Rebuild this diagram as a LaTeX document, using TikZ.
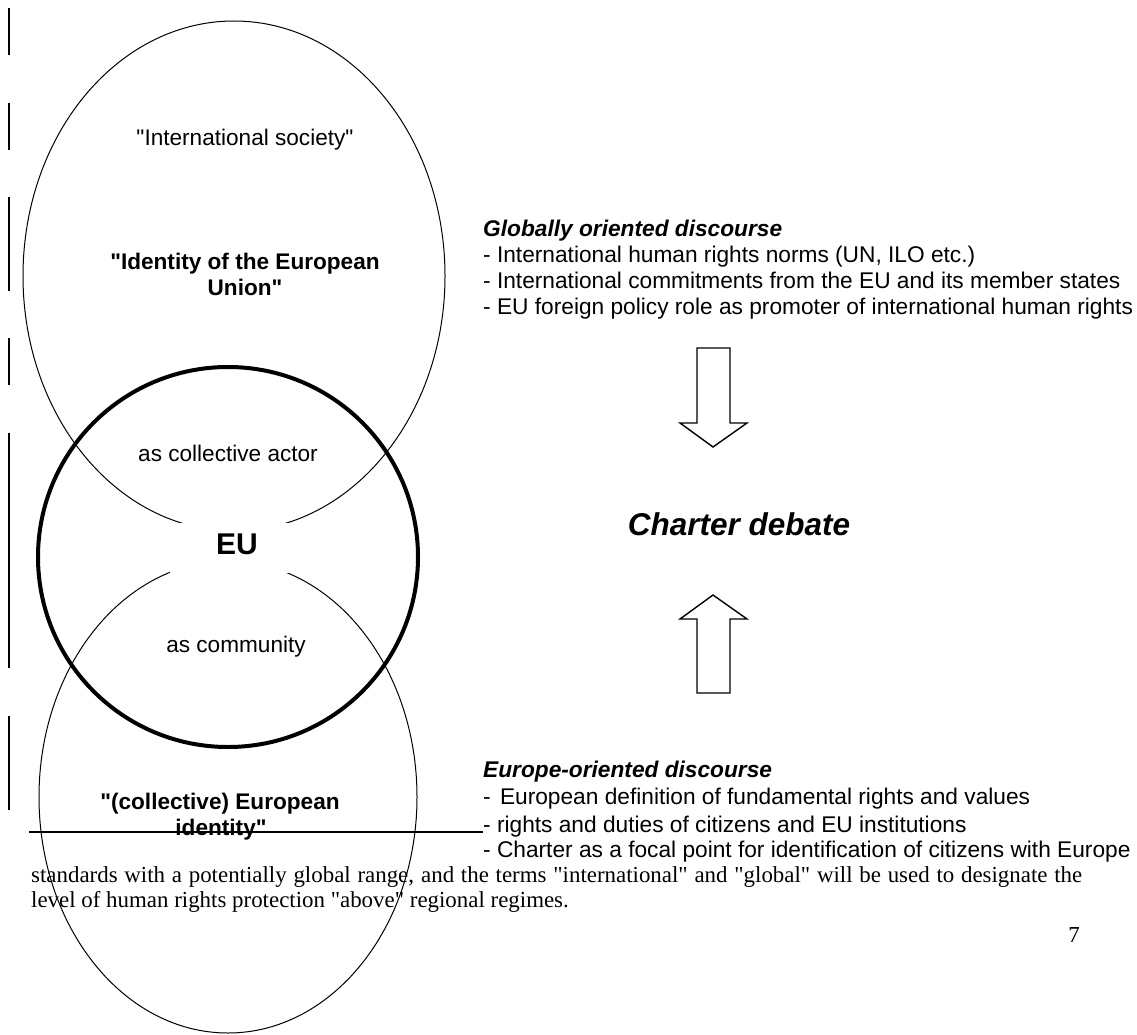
\documentclass[tikz,border=0pt]{standalone}
\usepackage{fontspec}
\newfontfamily\arialf{Liberation Sans}
\newfontfamily\timesf{Liberation Serif}
\begin{document}
\begin{tikzpicture}[x=1pt,y=-1pt,
  thinline/.style={line width=1pt},
  barline/.style={line width=2pt},
  thickline/.style={line width=4pt},
  blockarrow/.style={line width=1.4pt, line join=miter},
  lbl/.style={inner sep=0pt, anchor=base, font=\arialf\fontsize{22.6}{26}\selectfont},
  lblb/.style={inner sep=0pt, anchor=base, font=\arialf\fontsize{22.6}{26}\selectfont\bfseries},
  item/.style={inner sep=0pt, anchor=base west, font=\arialf\fontsize{22.7}{26}\selectfont},
  head/.style={inner sep=0pt, anchor=base west, font=\arialf\fontsize{22.7}{26}\selectfont\bfseries\itshape},
  bodytext/.style={inner sep=0pt, anchor=base west, font=\timesf\fontsize{22.9}{26}\selectfont}]
\useasboundingbox (0,0) rectangle (1137,1035);

% left margin bars
\draw[barline] (9,8) -- (9,55);
\draw[barline] (9,103) -- (9,150);
\draw[barline] (9,197) -- (9,291);
\draw[barline] (9,338) -- (9,385);
\draw[barline] (9,433) -- (9,668);
\draw[barline] (9,716) -- (9,810);

% ellipses
\draw[thinline] (234,276) ellipse [x radius=211, y radius=255];
\draw[thinline] (228,797) ellipse [x radius=189, y radius=236];
\fill[white] (170,523) rectangle (290,573);
\draw[thickline] (228,557) circle [radius=190];

% left texts
\node[lbl] (intsoc) at (245,146) {"International society"};
\node[lblb] (ideu1) at (245,269) {"Identity of the European};
\node[lblb] (ideu2) at (245,295) {Union"};
\node[lbl] (actor) at (228,461) {as collective actor};
\node[inner sep=0pt, anchor=base, font=\arialf\fontsize{30}{34}\selectfont\bfseries] (eu) at (237,554) {EU};
\node[lbl] (comm) at (236,652) {as community};
\node[lblb] (ceid1) at (220,809) {"(collective) European};
\node[lblb] (ceid2) at (221,835) {identity"};

% right top block
\node[head] (glob) at (483,236) {Globally oriented discourse};
\node[item] (g1) at (483,262) {- International human rights norms (UN, ILO etc.)};
\node[item] (g2) at (483,288) {- International commitments from the EU and its member states};
\node[item] (g3) at (483,314) {- EU foreign policy role as promoter of international human rights};

% arrows
\draw[blockarrow] (697,348) -- (730,348) -- (730,423) -- (747,423) -- (713,447) -- (680,423) -- (697,423) -- cycle;
\node[inner sep=0pt, anchor=base, font=\arialf\fontsize{31.5}{36}\selectfont\bfseries\itshape] (charter) at (739,535) {Charter debate};
\draw[blockarrow] (697,693) -- (730,693) -- (730,619) -- (747,619) -- (713,595) -- (680,619) -- (697,619) -- cycle;

% right bottom block
\node[head] (eur) at (483,777) {Europe-oriented discourse};
\node[item] (e1) at (483,804) {-\hspace{3pt} European definition of fundamental rights and values};
\node[item] (e2) at (483,832) {- rights and duties of citizens and EU institutions};
\node[item] (e3) at (483,857) {- Charter as a focal point for identification of citizens with Europe};

% separator line ending at the item
\coordinate (lineL) at (29,832);
\draw[barline] (lineL) -- (e2.base west);

% body text
\node[bodytext] (body1) at (31,882) {\makebox[1051pt][s]{standards with a potentially global range, and the terms "international" and "global" will be used to designate the}};
\node[bodytext] (body2) at (31,907) {level of human rights protection "above" regional regimes.};
\node[inner sep=0pt, anchor=base, font=\timesf\fontsize{22.9}{26}\selectfont] (pg) at (1074,942) {7};
\end{tikzpicture}
\end{document}
